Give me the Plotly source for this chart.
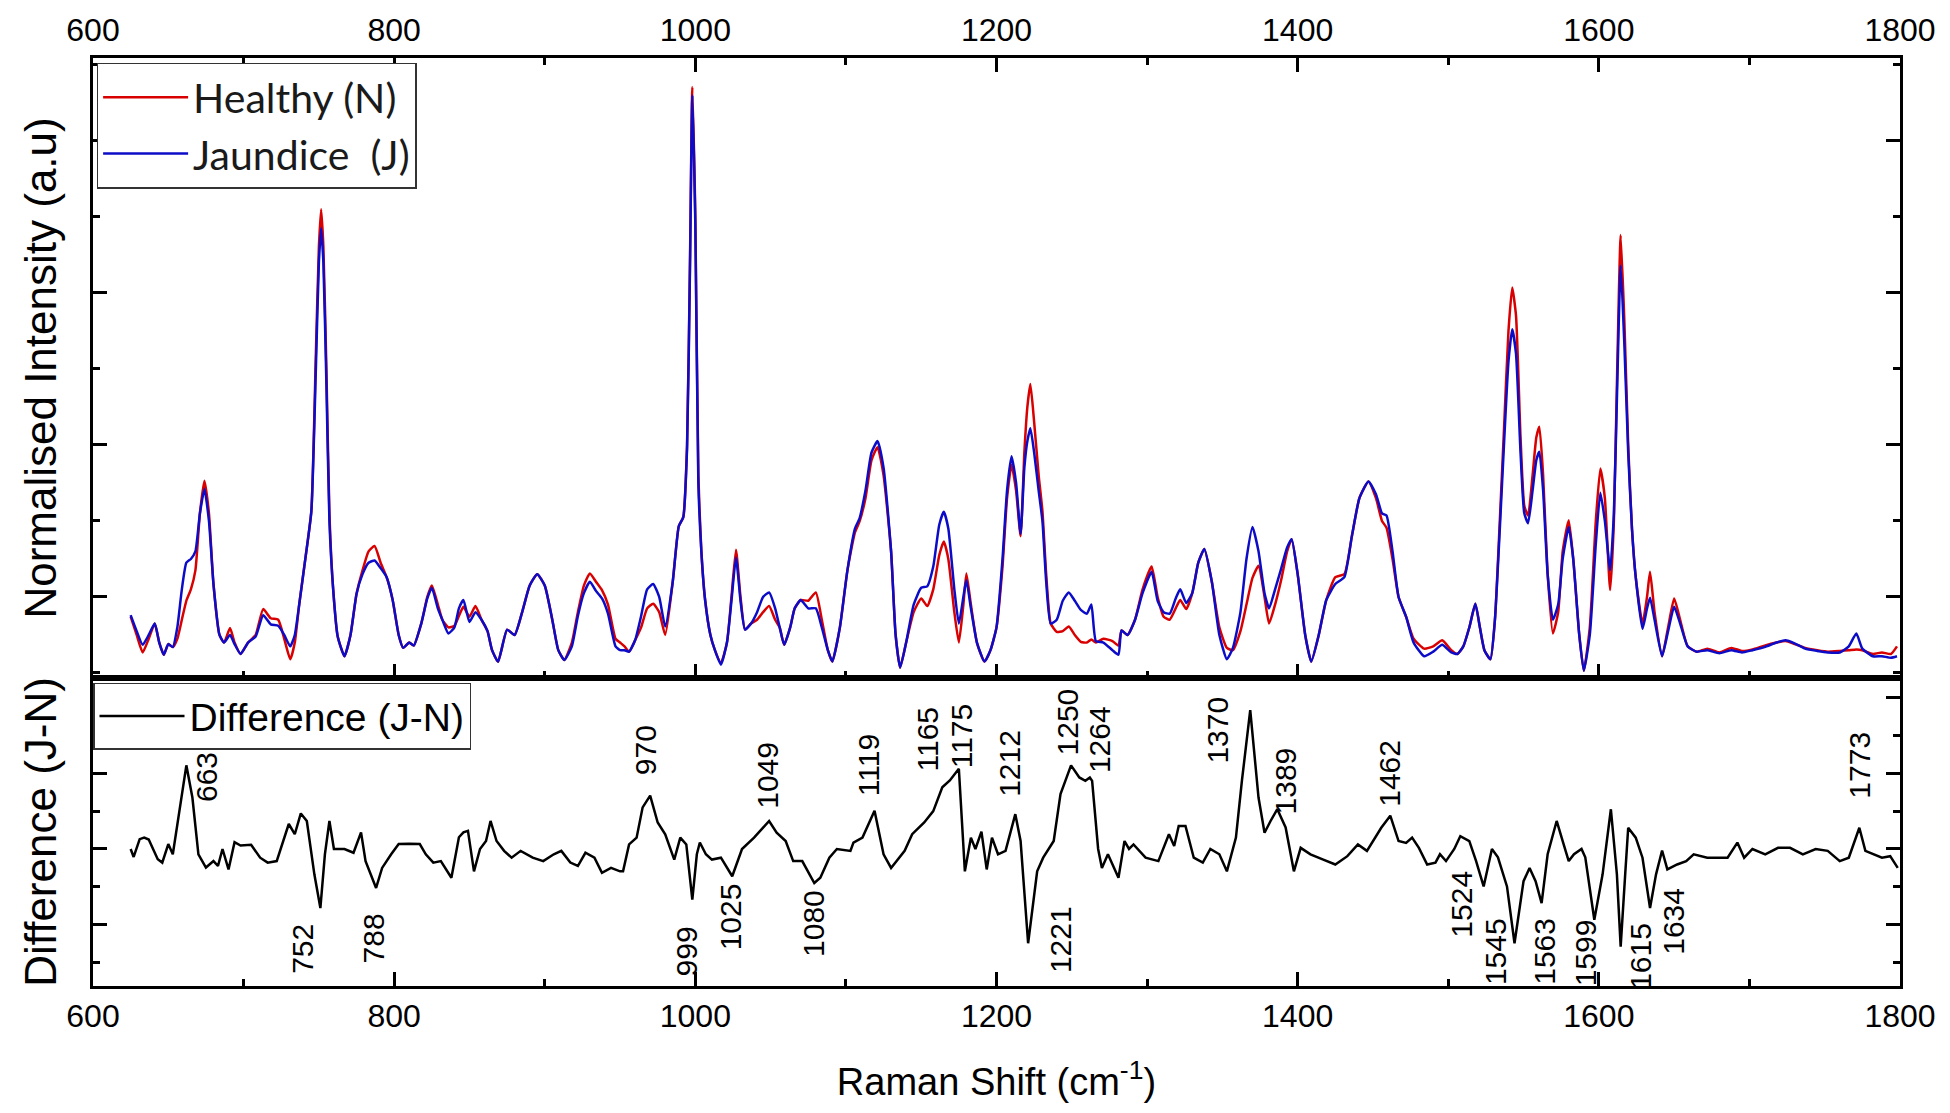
import plotly.graph_objects as go

# Raman shift grid for the two averaged spectra (cm-1)
shift = [625, 629, 633, 637, 641, 644, 647, 650, 653, 656, 659, 662, 665, 668, 671, 674, 677, 680, 684, 687,
         691, 694, 698, 703, 708, 713, 718, 723, 727, 731, 734, 737, 741, 745, 748, 750, 751.5, 753, 755, 757,
         759.5, 762.5, 767, 771, 775, 779, 783, 787, 791, 795, 799, 803, 806, 810, 813, 818, 822, 825, 829, 832,
         836, 840, 843, 846, 850, 854, 858, 862, 865, 869, 875, 880, 885, 890, 895, 900, 905, 909, 913, 918,
         922, 926, 930, 934, 938, 942, 947, 950, 953, 956, 960, 964, 968, 972, 976, 980, 985, 989, 992, 994.5,
         996.5, 998, 1000, 1002, 1004, 1006.5, 1010, 1013, 1017, 1021, 1024, 1027, 1030, 1033, 1037, 1041, 1045, 1049, 1053, 1056,
         1059, 1063, 1066, 1070, 1075, 1080, 1084, 1088, 1091, 1096, 1101, 1106, 1109, 1113, 1117, 1121, 1125, 1130, 1133, 1136,
         1140, 1145, 1150, 1154, 1158, 1162, 1165, 1168, 1172, 1175, 1178, 1180, 1183, 1187, 1192, 1196, 1200, 1204, 1207, 1210,
         1213, 1216, 1218.5, 1220.5, 1222.5, 1225, 1228, 1230.5, 1233, 1236, 1240, 1244, 1248, 1252, 1256, 1260, 1263, 1266, 1271, 1277,
         1281, 1283, 1287, 1292, 1297, 1303, 1307, 1311, 1315, 1319, 1322, 1326, 1330, 1334, 1338, 1343, 1348, 1353, 1357, 1362,
         1366, 1370, 1374, 1378, 1381, 1385, 1389, 1393, 1396, 1400, 1405, 1409, 1414, 1419, 1425, 1431, 1436, 1441, 1447, 1452,
         1456, 1459, 1463, 1467, 1472, 1477, 1484, 1490, 1496, 1502, 1506, 1510, 1514, 1518, 1521, 1524, 1528, 1531, 1534, 1537,
         1540, 1542.5, 1545, 1548, 1550.5, 1553, 1556, 1558.5, 1560.5, 1563, 1566, 1569.5, 1573, 1576, 1580, 1583, 1587, 1590, 1594, 1598,
         1601, 1604, 1607.5, 1610, 1612, 1614.5, 1617, 1619.5, 1622, 1624.5, 1629, 1632, 1634, 1637, 1642, 1646, 1650, 1654, 1659, 1665,
         1672, 1680, 1688, 1695, 1702, 1710, 1718, 1724, 1730, 1737, 1745, 1752, 1760, 1766, 1771, 1775, 1782, 1788, 1794, 1798]

healthy = [0.74, 0.5, 0.27, 0.45, 0.65, 0.4, 0.24, 0.38, 0.34, 0.45, 0.7, 0.95, 1.1, 1.35, 2.1, 2.53, 2.1, 1.17, 0.5, 0.4,
           0.59, 0.4, 0.25, 0.4, 0.5, 0.84, 0.72, 0.7, 0.45, 0.18, 0.4, 0.91, 1.5, 2.13, 4.2, 5.6, 6.1, 5.6, 4.0, 2.1,
           1.1, 0.48, 0.22, 0.5, 1.04, 1.35, 1.6, 1.67, 1.45, 1.26, 0.96, 0.5, 0.33, 0.4, 0.36, 0.65, 1.0, 1.15, 0.9, 0.7,
           0.6, 0.62, 0.75, 0.87, 0.74, 0.88, 0.7, 0.55, 0.3, 0.15, 0.57, 0.5, 0.8, 1.15, 1.3, 1.15, 0.7, 0.3, 0.17, 0.4,
           0.8, 1.15, 1.31, 1.2, 1.09, 0.9, 0.45, 0.4, 0.35, 0.28, 0.43, 0.6, 0.85, 0.91, 0.8, 0.5, 1.2, 1.93, 2.05, 3.0,
           5.5, 7.71, 6.0, 2.6, 1.6, 0.96, 0.5, 0.3, 0.13, 0.4, 1.0, 1.62, 1.0, 0.57, 0.65, 0.7, 0.8, 0.88, 0.7, 0.6,
           0.37, 0.6, 0.85, 0.96, 0.95, 1.06, 0.7, 0.3, 0.15, 0.6, 1.35, 1.85, 1.99, 2.3, 2.8, 2.97, 2.6, 1.6, 0.5, 0.07,
           0.4, 0.8, 0.98, 0.88, 1.1, 1.55, 1.73, 1.5, 0.8, 0.4, 0.9, 1.31, 0.9, 0.4, 0.15, 0.3, 0.6, 1.4, 2.3, 2.74,
           2.4, 1.8, 2.9, 3.5, 3.8, 3.3, 2.6, 2.13, 1.3, 0.65, 0.54, 0.55, 0.61, 0.5, 0.41, 0.4, 0.44, 0.4, 0.45, 0.42,
           0.36, 0.56, 0.5, 0.7, 1.1, 1.4, 1.0, 0.74, 0.7, 0.85, 0.96, 0.84, 1.05, 1.45, 1.63, 1.2, 0.6, 0.33, 0.3, 0.55,
           0.9, 1.25, 1.41, 1.0, 0.65, 0.9, 1.22, 1.6, 1.76, 1.3, 0.5, 0.15, 0.5, 0.96, 1.26, 1.3, 1.8, 2.3, 2.52, 2.3,
           2.0, 1.91, 1.5, 1.0, 0.74, 0.45, 0.32, 0.35, 0.43, 0.3, 0.25, 0.35, 0.6, 0.91, 0.6, 0.3, 0.18, 0.7, 1.9, 3.2,
           4.5, 5.07, 4.7, 3.1, 2.2, 2.07, 2.6, 3.1, 3.24, 2.6, 1.3, 0.52, 0.8, 1.6, 2.01, 1.5, 0.5, 0.03, 0.6, 2.0,
           2.69, 2.3, 1.09, 2.0, 3.8, 5.76, 4.6, 3.0, 1.9, 1.26, 0.65, 1.0, 1.33, 0.8, 0.22, 0.6, 0.98, 0.7, 0.35, 0.28,
           0.32, 0.27, 0.33, 0.29, 0.31, 0.36, 0.4, 0.42, 0.38, 0.33, 0.3, 0.28, 0.29, 0.3, 0.31, 0.3, 0.25, 0.27, 0.25, 0.35]

jaundice = [0.76, 0.55, 0.37, 0.5, 0.65, 0.4, 0.24, 0.38, 0.34, 0.6, 1.1, 1.45, 1.5, 1.6, 2.1, 2.42, 2.0, 1.17, 0.5, 0.4,
            0.5, 0.38, 0.25, 0.4, 0.48, 0.76, 0.64, 0.62, 0.5, 0.35, 0.5, 0.91, 1.5, 2.13, 4.0, 5.4, 5.85, 5.4, 3.8, 2.0,
            1.1, 0.48, 0.22, 0.5, 1.04, 1.3, 1.45, 1.48, 1.38, 1.26, 0.96, 0.5, 0.33, 0.4, 0.36, 0.65, 0.98, 1.12, 0.85, 0.7,
            0.52, 0.6, 0.85, 0.96, 0.67, 0.8, 0.7, 0.55, 0.3, 0.15, 0.57, 0.5, 0.8, 1.15, 1.3, 1.15, 0.7, 0.3, 0.17, 0.35,
            0.75, 1.05, 1.2, 1.08, 0.98, 0.78, 0.35, 0.3, 0.3, 0.28, 0.43, 0.75, 1.1, 1.17, 1.0, 0.61, 1.2, 1.93, 2.05, 2.95,
            5.4, 7.6, 5.9, 2.5, 1.6, 0.96, 0.5, 0.3, 0.11, 0.4, 0.95, 1.52, 0.95, 0.57, 0.65, 0.8, 1.0, 1.06, 0.85, 0.6,
            0.37, 0.6, 0.85, 0.96, 0.85, 0.85, 0.6, 0.3, 0.15, 0.6, 1.35, 1.9, 2.03, 2.4, 2.9, 3.05, 2.7, 1.6, 0.5, 0.07,
            0.4, 0.9, 1.12, 1.14, 1.4, 1.95, 2.12, 1.9, 1.1, 0.65, 1.0, 1.22, 0.85, 0.4, 0.15, 0.3, 0.6, 1.5, 2.4, 2.85,
            2.5, 1.83, 2.7, 3.05, 3.22, 2.9, 2.4, 2.0, 1.2, 0.65, 0.7, 0.95, 1.06, 0.95, 0.83, 0.78, 0.9, 0.42, 0.4, 0.3,
            0.24, 0.56, 0.5, 0.7, 1.05, 1.33, 0.95, 0.8, 0.78, 0.98, 1.1, 0.92, 1.05, 1.45, 1.63, 1.2, 0.5, 0.18, 0.33, 0.8,
            1.5, 1.92, 1.6, 1.05, 0.85, 1.1, 1.37, 1.65, 1.76, 1.3, 0.5, 0.15, 0.5, 0.96, 1.17, 1.26, 1.8, 2.3, 2.52, 2.35,
            2.1, 2.07, 1.6, 1.0, 0.74, 0.4, 0.22, 0.28, 0.37, 0.27, 0.25, 0.35, 0.6, 0.91, 0.6, 0.3, 0.18, 0.7, 1.8, 3.0,
            4.1, 4.52, 4.2, 2.9, 2.1, 1.97, 2.4, 2.8, 2.91, 2.4, 1.3, 0.7, 0.9, 1.5, 1.92, 1.5, 0.5, 0.03, 0.5, 1.7,
            2.37, 2.0, 1.35, 2.1, 3.6, 5.36, 4.3, 2.9, 1.9, 1.26, 0.58, 0.85, 0.99, 0.7, 0.22, 0.55, 0.87, 0.65, 0.35, 0.28,
            0.3, 0.26, 0.3, 0.27, 0.3, 0.34, 0.4, 0.43, 0.39, 0.32, 0.29, 0.27, 0.27, 0.35, 0.52, 0.32, 0.22, 0.22, 0.2, 0.22]

# Difference spectrum (J-N)
diff_shift = [625, 627, 631, 634, 637, 643, 646, 650, 653, 658, 662, 666, 670, 675, 680, 683, 686, 690, 694, 698,
              705, 711, 716, 722, 730, 734, 738, 742, 747, 751, 754, 757, 760, 767, 773, 778, 781, 788, 792, 798,
              803, 810, 817, 821, 826, 831, 838, 843, 846, 849, 853, 857, 861, 864, 868, 873, 878, 884, 892, 899,
              906, 911, 917, 922, 927, 933, 938, 944, 950, 952, 956, 961, 965, 970, 975, 980, 986, 990, 994, 998,
              1001, 1003, 1007, 1011, 1017, 1024.5, 1031, 1039, 1049, 1054, 1060, 1065, 1071, 1079, 1083, 1089, 1094, 1103, 1105, 1111,
              1119, 1125, 1130, 1139, 1144, 1152, 1158, 1164, 1169, 1175, 1179, 1183, 1186, 1190, 1193.5, 1197, 1201, 1206, 1212.5, 1216,
              1221, 1227, 1231, 1238, 1242.5, 1249.5, 1255, 1259, 1262, 1263.5, 1267.5, 1270, 1274, 1281, 1285, 1288, 1291, 1299, 1307.5, 1314.5,
              1318, 1321, 1325.5, 1331, 1337, 1342, 1348, 1353, 1359, 1363, 1368.5, 1374, 1378, 1382, 1386.5, 1392, 1397.5, 1402, 1408.5, 1417,
              1425, 1433, 1440, 1446, 1451.5, 1455.5, 1461.5, 1467, 1472, 1476, 1480.5, 1486, 1491.5, 1494.5, 1498.5, 1504, 1508, 1514, 1518.5, 1523.5,
              1529, 1533, 1539, 1544, 1550, 1554, 1558, 1562, 1566, 1572, 1576, 1580, 1583.5, 1588.5, 1591, 1597, 1602.5, 1608, 1612, 1614.5,
              1617.5, 1619.5, 1624.5, 1629, 1634, 1638, 1642, 1645.5, 1652, 1658, 1663, 1672, 1680, 1685.5, 1692, 1696.5, 1702, 1710.5, 1719, 1727,
              1735.5, 1744, 1752, 1760, 1766, 1773, 1777, 1782.5, 1788, 1793.5, 1798.5]

difference = [0.0, -0.21, 0.26, 0.3, 0.25, -0.27, -0.36, 0.13, -0.14, 1.1, 2.21, 1.36, -0.14, -0.49, -0.32, -0.45, 0.0, -0.54, 0.18, 0.09,
              0.11, -0.23, -0.36, -0.32, 0.66, 0.39, 0.94, 0.74, -0.67, -1.56, -0.14, 0.74, 0.0, 0.0, -0.1, 0.44, -0.32, -1.03, -0.5, -0.14,
              0.13, 0.14, 0.13, -0.14, -0.36, -0.32, -0.76, 0.31, 0.44, 0.48, -0.59, 0.0, 0.21, 0.74, 0.21, -0.05, -0.23, -0.05, -0.23, -0.32,
              -0.14, -0.05, -0.36, -0.45, -0.1, -0.23, -0.63, -0.5, -0.59, -0.59, 0.12, 0.3, 1.1, 1.41, 0.7, 0.39, -0.28, 0.3, 0.12, -1.34,
              -0.14, 0.17, -0.14, -0.28, -0.23, -0.72, 0.0, 0.3, 0.74, 0.43, 0.21, -0.32, -0.32, -0.9, -0.76, -0.23, 0.0, -0.05, 0.17, 0.3,
              1.01, -0.14, -0.5, -0.05, 0.39, 0.7, 1.0, 1.63, 1.81, 2.12, -0.59, 0.3, 0.0, 0.46, -0.54, 0.3, -0.14, -0.05, 0.92, 0.21,
              -2.49, -0.59, -0.23, 0.21, 1.45, 2.21, 1.89, 1.8, 1.89, 1.8, 0.0, -0.5, -0.14, -0.76, 0.21, 0.0, 0.12, -0.23, -0.32, 0.39,
              0.08, 0.61, 0.61, -0.23, -0.36, 0.0, -0.14, -0.59, 0.3, 1.81, 3.67, 1.36, 0.43, 0.74, 1.05, 0.57, -0.59, 0.03, -0.14, -0.28,
              -0.41, -0.19, 0.12, -0.05, 0.3, 0.56, 0.88, 0.21, 0.16, 0.3, 0.03, -0.41, -0.36, -0.14, -0.32, 0.0, 0.34, 0.21, -0.32, -0.99,
              0.0, -0.22, -0.99, -2.49, -0.85, -0.5, -0.85, -1.43, -0.14, 0.74, 0.21, -0.32, -0.14, 0.0, -0.22, -1.87, -0.67, 1.05, -0.67, -2.58,
              -0.67, 0.56, 0.3, -0.23, -1.56, -0.67, -0.04, -0.54, -0.41, -0.32, -0.14, -0.23, -0.23, -0.23, 0.17, -0.23, 0.0, -0.14, 0.03, 0.03,
              -0.14, 0.0, -0.05, -0.32, -0.23, 0.56, -0.05, -0.14, -0.23, -0.19, -0.5]

# Band labels on the difference spectrum: text, label x, label y
band_text = ["663", "752", "788", "970", "999", "1025", "1049", "1080", "1119", "1165", "1175", "1212",
             "1221", "1250", "1264", "1370", "1389", "1462", "1524", "1545", "1563", "1599", "1615", "1634", "1773"]
band_x = [675, 739, 786, 967, 994, 1023, 1048, 1078, 1115, 1154, 1177, 1209,
          1243, 1247, 1268, 1347, 1392, 1461, 1509, 1531, 1564, 1591, 1628, 1650, 1773]
band_y = [1.9, -2.63, -2.36, 2.6, -2.7, -1.78, 1.95, -1.96, 2.2, 2.9, 3.0, 2.25,
          -2.40, 3.35, 2.9, 3.15, 1.8, 2.0, -1.45, -2.7, -2.7, -2.75, -2.85, -1.92, 2.21]

AXFONT = "Liberation Sans, Arial, sans-serif"

fig = go.Figure()
fig.add_trace(go.Scatter(x=shift, y=healthy, mode="lines", name="Healthy (N)",
                         line=dict(color="#d80000", width=2.5, shape="spline", smoothing=0.5),
                         xaxis="x2", yaxis="y2", legend="legend"))
fig.add_trace(go.Scatter(x=shift, y=jaundice, mode="lines", name="Jaundice  (J)",
                         line=dict(color="#0c0cc8", width=2.5, shape="spline", smoothing=0.5),
                         xaxis="x2", yaxis="y2", legend="legend"))
fig.add_trace(go.Scatter(x=diff_shift, y=difference, mode="lines", name="Difference (J-N)",
                         line=dict(color="black", width=2.5), xaxis="x", yaxis="y", legend="legend2"))

for t, bx, by in zip(band_text, band_x, band_y):
    fig.add_annotation(x=bx, y=by, xref="x", yref="y", text=t, showarrow=False, textangle=-90,
                       font=dict(family=AXFONT, size=30, color="black"))

split = 0.332

common_x = dict(range=[600, 1800], tick0=600, dtick=200, ticks="inside", ticklen=14, tickwidth=2.5,
                tickcolor="black", showline=True, linewidth=2.5, linecolor="black", showgrid=False,
                zeroline=False, automargin=False, tickfont=dict(family=AXFONT, size=32, color="black"),
                minor=dict(dtick=100, ticklen=7, tickwidth=2.5, ticks="inside", tickcolor="black"))

common_y = dict(ticks="inside", ticklen=14, tickwidth=2.5, tickcolor="black", showticklabels=False,
                showline=True, linewidth=2.5, linecolor="black", mirror="ticks", showgrid=False,
                zeroline=False, automargin=False)

fig.update_layout(
    width=1950, height=1113,
    margin=dict(l=85, r=58, t=50, b=135),
    plot_bgcolor="white", paper_bgcolor="white",
    xaxis=dict(common_x, anchor="y", side="bottom", mirror=True, ticklabelstandoff=0,
               title=dict(text="Raman Shift (cm<sup>-1</sup>)", standoff=36,
                          font=dict(family=AXFONT, size=38, color="black"))),
    xaxis2=dict(common_x, anchor="y2", side="top", mirror="ticks", matches="x", ticklabelstandoff=1),
    yaxis=dict(common_y, domain=[0, split], range=[-3.62, 4.52], tick0=0, dtick=2,
               minor=dict(tick0=0, dtick=1, ticklen=7, tickwidth=2.5, ticks="inside", tickcolor="black"),
               title=dict(text="Difference (J-N)", standoff=20,
                          font=dict(family=AXFONT, size=44, color="black"))),
    yaxis2=dict(common_y, domain=[split, 1], range=[-0.065, 8.09], tick0=1, dtick=2,
                minor=dict(tick0=0, dtick=1, ticklen=7, tickwidth=2.5, ticks="inside", tickcolor="black"),
                title=dict(text="Normalised Intensity (a.u)", standoff=20,
                           font=dict(family=AXFONT, size=44, color="black"))),
    legend=dict(x=0.002, y=0.995, xanchor="left", yanchor="top", bgcolor="white",
                bordercolor="#333333", borderwidth=1.5, itemwidth=85,
                font=dict(family="Lato, Open Sans, sans-serif", size=41, color="#1a1a1a")),
    legend2=dict(x=0.0, y=0.327, xanchor="left", yanchor="top", bgcolor="white",
                 bordercolor="#333333", borderwidth=1.5, itemwidth=85,
                 font=dict(family=AXFONT, size=39, color="black")),
)

fig.write_html("out.html")
